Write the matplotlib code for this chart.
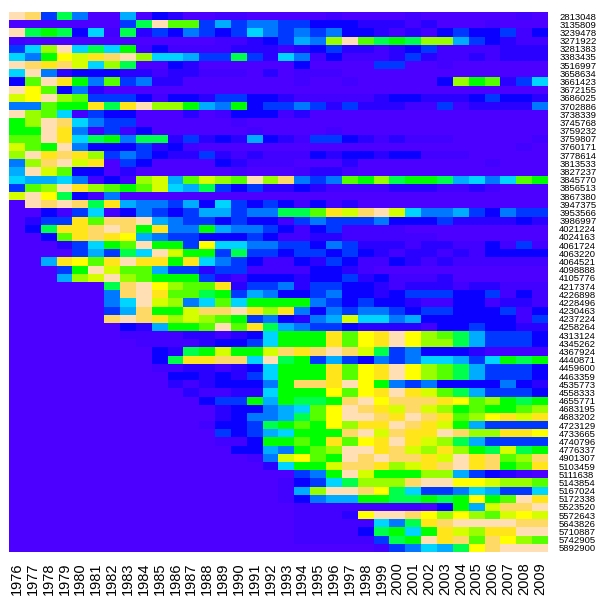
import matplotlib
matplotlib.use('Agg')
import matplotlib.pyplot as plt
from matplotlib.colors import ListedColormap

plt.rcParams['font.family'] = ['Liberation Sans', 'DejaVu Sans']

years = list(range(1976, 2010))

ids = ['2813048','3135809','3239478','3271922','3281383','3383435','3516997','3658634','3661423','3672155',
       '3686025','3702886','3738339','3745768','3759232','3759807','3760171','3778614','3813533','3827237',
       '3845770','3856513','3867380','3947375','3953566','3986997','4021224','4024163','4061724','4063220',
       '4064521','4098888','4105776','4217374','4226898','4228496','4230463','4237224','4258264','4313124',
       '4345262','4367924','4440871','4459600','4463359','4535773','4558333','4655771','4683195','4683202',
       '4723129','4733665','4740796','4776337','4901307','5103459','5111638','5143854','5167024','5172338',
       '5523520','5572643','5643826','5710887','5742905','5892900']

# color levels, low to high (violet -> blue -> cyan -> green -> yellow -> peach)
levels = ['#4C00FF','#4200FF','#2A00FF','#0A00FF','#0038FF','#0078FF','#00ACFF','#00D5FF',
          '#00FF4D','#00FF00','#55FF00','#99FF00','#D5FF00','#FFFF00','#FFE51A','#FFD966','#FFDFB3']

values = [
 [16,15,4,8,5,0,0,6,0,3,2,0,0,1,1,0,0,0,0,0,1,0,0,0,0,1,0,0,0,0,0,0,1,0],
 [0,0,0,0,0,0,0,4,8,16,10,10,4,6,4,5,5,4,4,3,3,3,2,2,2,1,2,0,0,0,1,0,0,0],
 [16,8,9,8,3,7,1,8,2,4,3,5,4,3,4,7,5,4,5,4,5,3,3,2,1,2,1,3,4,3,3,4,1,3],
 [1,0,0,0,0,0,0,0,0,0,0,0,0,1,1,2,3,4,6,5,11,16,10,8,9,8,11,11,6,4,3,2,1,1],
 [4,7,11,16,7,8,7,9,1,3,1,1,1,1,2,2,2,1,2,3,4,2,2,1,2,3,4,1,1,1,1,2,2,2],
 [7,5,9,13,12,14,15,16,11,7,7,6,4,4,8,4,2,7,5,1,3,1,1,1,2,4,2,1,1,2,1,2,2,2],
 [16,15,14,15,12,7,11,8,0,0,3,2,0,0,0,0,0,0,3,0,0,0,0,4,4,0,0,1,0,0,0,0,0,0],
 [7,16,5,2,3,3,3,2,2,1,2,2,1,1,1,0,2,0,1,1,1,0,0,0,0,0,0,0,0,0,0,0,0,0],
 [3,10,16,14,9,5,10,4,5,2,2,0,0,0,0,0,0,0,1,0,0,1,0,0,0,0,0,3,11,9,10,2,4,7],
 [16,13,10,3,5,2,0,0,0,0,0,0,0,0,0,0,0,0,0,0,0,0,0,0,0,0,0,0,0,0,0,0,0,0],
 [12,13,16,11,10,4,4,4,3,1,3,3,2,4,4,3,3,2,1,1,1,1,1,2,3,3,2,2,2,3,4,3,3,2],
 [5,5,10,9,9,14,8,14,16,11,11,9,6,5,9,3,4,4,5,4,2,4,2,2,2,1,1,4,1,2,2,2,2,5],
 [16,11,10,7,1,4,3,3,0,0,0,2,0,1,3,3,3,1,2,0,0,0,0,0,0,0,0,0,0,0,0,0,0,0],
 [9,11,16,15,7,5,4,4,0,0,0,0,0,0,1,0,0,0,0,0,0,0,0,0,0,0,0,0,0,0,0,0,0,0],
 [9,9,16,14,5,1,4,1,3,0,0,0,0,0,0,1,0,0,0,0,1,0,0,0,0,0,0,0,0,0,0,0,0,0],
 [10,10,16,14,7,8,9,5,8,8,2,4,2,3,2,6,3,2,1,4,4,3,2,1,2,1,1,1,0,0,0,0,0,1],
 [12,10,9,16,5,3,3,3,4,2,3,1,0,0,0,0,0,0,0,0,0,0,0,0,0,0,0,0,0,0,0,0,1,0],
 [11,16,14,15,14,11,4,5,4,3,2,2,4,2,1,2,1,1,1,3,2,3,3,2,3,3,1,1,1,0,0,0,0,0],
 [5,11,15,16,12,14,0,4,3,0,0,0,0,3,2,1,1,1,0,0,0,2,0,0,0,0,0,0,0,0,1,0,0,0],
 [6,16,12,10,3,3,0,2,0,0,0,0,0,0,1,0,0,0,1,2,2,1,0,0,0,0,0,0,0,0,0,0,0,0],
 [7,6,6,7,5,1,3,1,11,12,6,10,12,11,10,16,11,15,5,4,5,10,9,11,8,9,9,8,6,7,5,7,10,9],
 [4,10,11,16,14,11,10,9,10,12,7,6,8,4,3,4,2,2,3,2,1,1,1,1,2,2,2,1,1,2,1,0,0,0],
 [12,16,13,8,3,1,5,0,0,0,0,0,0,0,0,0,0,0,0,0,0,0,0,0,0,0,0,0,0,0,0,0,0,0],
 [0,16,15,16,15,8,14,6,5,5,4,6,3,7,4,3,4,3,1,3,1,2,0,0,0,0,0,0,0,0,0,0,0,0],
 [0,0,3,1,4,7,1,3,5,4,3,4,6,6,4,5,5,8,8,10,14,12,15,16,12,7,5,5,6,4,3,5,4,4],
 [0,2,4,4,14,10,15,15,16,6,5,4,4,3,4,3,3,1,4,5,4,4,4,5,3,3,3,4,2,2,2,2,3,2],
 [0,3,8,14,14,15,16,15,9,14,5,5,9,6,5,5,4,3,1,3,4,1,1,1,1,0,0,0,0,0,0,0,0,0],
 [0,0,3,10,14,15,14,13,6,5,4,4,3,3,3,4,3,1,1,2,2,1,1,1,1,1,1,0,0,0,0,0,0,0],
 [0,0,0,2,4,7,9,10,16,9,9,4,13,7,7,5,5,4,4,3,5,4,2,2,2,1,2,2,1,1,3,1,4,1],
 [0,0,0,0,4,6,4,8,7,16,12,9,9,4,8,4,4,3,4,4,3,4,3,2,1,2,2,1,2,1,3,3,3,3],
 [0,0,6,14,13,10,14,16,14,14,9,14,7,5,4,3,1,1,3,2,4,3,1,1,3,2,1,2,1,1,1,1,1,1],
 [0,0,0,4,9,16,12,10,10,6,4,4,2,4,4,1,1,1,1,3,3,2,1,0,0,0,0,0,0,0,0,0,0,0],
 [0,0,0,6,11,12,16,11,10,9,9,9,4,2,1,3,3,3,2,3,3,4,2,3,1,1,1,2,0,0,0,0,0,0],
 [0,0,0,0,0,0,8,15,16,13,11,10,10,14,2,4,4,5,2,4,4,3,3,2,1,2,2,2,1,2,2,1,1,1],
 [0,0,0,0,0,0,5,15,16,14,10,10,8,9,4,6,5,3,3,4,5,3,3,2,3,4,4,4,3,3,4,1,3,1],
 [0,0,0,0,0,0,5,7,16,12,11,5,7,10,7,9,9,9,9,5,4,3,4,3,3,2,1,1,3,3,1,2,2,1],
 [0,0,0,0,0,0,4,6,15,9,9,12,15,15,16,14,11,14,5,3,5,4,5,5,4,3,4,4,3,3,3,4,1,3],
 [0,0,0,0,0,0,15,16,15,14,11,12,11,10,9,4,5,3,2,5,6,12,7,7,5,6,3,3,3,3,3,3,1,4],
 [0,0,0,0,0,0,0,3,2,6,9,9,10,16,10,14,8,6,5,4,4,3,2,2,2,2,1,3,3,4,3,3,2,2],
 [0,0,0,0,0,0,0,1,1,1,1,2,2,1,2,3,7,9,9,9,14,10,13,14,16,13,11,10,8,6,4,4,4,3],
 [0,0,0,0,0,0,0,0,1,1,1,1,2,3,3,4,7,9,9,9,14,10,13,14,16,13,11,11,8,6,4,4,4,3],
 [0,0,0,0,0,0,0,0,0,3,2,8,9,12,9,9,12,15,14,15,16,15,12,8,4,5,3,3,3,2,1,1,1,1],
 [0,0,0,0,0,0,0,0,0,3,8,14,14,15,15,7,16,8,9,4,6,4,3,5,4,5,7,7,6,4,7,9,8,9],
 [0,0,0,0,0,0,0,0,0,1,1,2,2,1,2,3,7,9,9,9,14,10,13,14,16,13,11,10,8,6,4,4,4,3],
 [0,0,0,0,0,0,0,0,0,0,3,3,2,3,2,4,7,9,9,9,14,10,13,14,16,13,11,10,8,6,4,4,4,3],
 [0,0,0,0,0,0,0,0,0,0,2,1,2,3,3,3,5,9,15,15,14,16,13,9,5,4,5,3,3,3,3,5,3,2],
 [0,0,0,0,0,0,0,0,0,0,0,2,1,1,2,2,7,9,9,9,13,10,13,14,16,14,12,10,8,6,4,4,4,3],
 [0,0,0,0,0,0,0,0,0,0,0,0,3,4,4,9,6,9,8,8,9,15,16,13,15,15,15,14,13,10,11,9,8,9],
 [0,0,0,0,0,0,0,0,0,0,0,0,0,2,3,3,5,6,7,10,13,16,15,14,12,15,12,11,9,10,9,9,10,11],
 [0,0,0,0,0,0,0,0,0,0,0,0,0,2,3,5,5,6,8,10,13,16,16,15,14,16,15,14,10,11,13,14,12,14],
 [0,0,0,0,0,0,0,0,0,0,0,0,1,3,3,4,8,9,10,9,13,11,14,14,16,15,14,12,9,6,4,4,4,4],
 [0,0,0,0,0,0,0,0,0,0,0,0,0,4,3,4,6,7,9,9,9,15,16,12,15,14,14,16,15,11,11,14,14,13],
 [0,0,0,0,0,0,0,0,0,0,0,0,0,1,1,3,9,9,10,9,14,10,13,14,16,14,12,11,8,6,4,4,4,4],
 [0,0,0,0,0,0,0,0,0,0,0,0,0,0,3,3,6,5,9,10,11,16,16,14,15,12,11,14,11,9,8,12,8,9],
 [0,0,0,0,0,0,0,0,0,0,0,0,0,0,0,1,5,12,13,10,9,16,15,16,15,15,14,12,16,14,15,10,11,15],
 [0,0,0,0,0,0,0,0,0,0,0,0,0,0,0,0,2,7,9,9,12,15,15,14,11,12,14,15,16,14,15,9,10,14],
 [0,0,0,0,0,0,0,0,0,0,0,0,0,0,0,0,0,0,4,5,9,16,12,9,9,9,11,11,6,4,3,2,1,0],
 [0,0,0,0,0,0,0,0,0,0,0,0,0,0,0,0,0,1,3,4,7,8,11,11,11,15,16,16,13,13,12,11,11,10],
 [0,0,0,0,0,0,0,0,0,0,0,0,0,0,0,0,0,1,6,11,16,16,15,13,8,7,4,4,5,7,6,4,4,7],
 [0,0,0,0,0,0,0,0,0,0,0,0,0,0,0,0,0,1,3,5,6,6,9,9,8,8,9,8,9,13,9,10,16,14],
 [0,0,0,0,0,0,0,0,0,0,0,0,0,0,0,0,0,0,1,1,1,1,1,1,1,1,0,3,9,6,12,15,15,16],
 [0,0,0,0,0,0,0,0,0,0,0,0,0,0,0,0,0,0,1,1,1,2,13,16,16,15,13,11,13,11,10,12,13,12],
 [0,0,0,0,0,0,0,0,0,0,0,0,0,0,0,0,0,0,1,1,1,1,1,7,5,8,14,15,16,16,16,16,15,15],
 [0,0,0,0,0,0,0,0,0,0,0,0,0,0,0,0,0,0,1,1,1,1,3,8,9,7,9,14,12,11,14,14,16,16],
 [0,0,0,0,0,0,0,0,0,0,0,0,0,0,0,0,0,0,1,1,1,1,1,4,8,9,16,14,15,10,15,13,11,10],
 [0,0,0,0,0,0,0,0,0,0,0,0,0,0,0,0,0,0,0,0,0,0,0,1,4,5,7,6,8,13,15,16,16,16],
]

fig = plt.figure(figsize=(5.97, 5.97), dpi=100)
ax = fig.add_axes([9/597, 1-552/597, 539/597, 540/597])

ax.imshow(values, cmap=ListedColormap(levels), vmin=-0.5, vmax=16.5,
          aspect='auto', interpolation='nearest')

for s in ax.spines.values():
    s.set_visible(False)

ax.set_xticks(range(len(years)))
ax.set_xticklabels(years, rotation=90, fontsize=10.5)
ax.tick_params(axis='x', length=0, pad=7.5)

ax.yaxis.tick_right()
ax.set_yticks(range(len(ids)))
ax.set_yticklabels(ids, fontsize=6.8)
ax.tick_params(axis='y', length=0, pad=8)

fig.savefig('out.png', dpi=100)
